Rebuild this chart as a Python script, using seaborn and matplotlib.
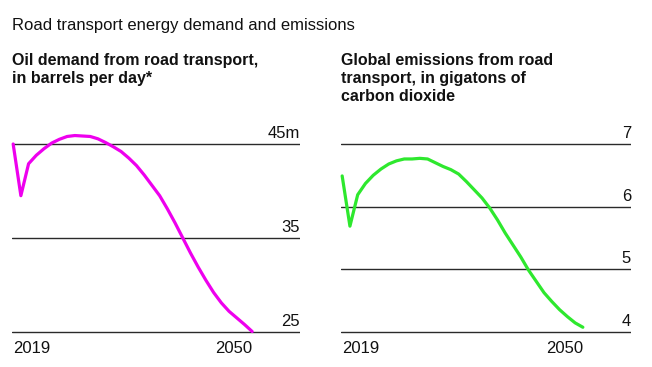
import matplotlib
matplotlib.use('Agg')
import matplotlib.pyplot as plt
import matplotlib.transforms as mtransforms
import seaborn as sns
import pandas as pd
import numpy as np

# data
years = list(range(2019, 2051))
oil_demand = [45.0, 39.5, 42.9, 43.8, 44.5, 45.1, 45.5, 45.8, 45.9, 45.85, 45.8,
              45.55, 45.15, 44.7, 44.2, 43.5, 42.7, 41.7, 40.6, 39.5, 38.1, 36.6,
              35.0, 33.4, 31.9, 30.5, 29.2, 28.1, 27.2, 26.5, 25.8, 25.05]
emissions = [6.49, 5.69, 6.19, 6.37, 6.50, 6.60, 6.68, 6.73, 6.76, 6.76, 6.77,
             6.76, 6.70, 6.64, 6.59, 6.52, 6.40, 6.27, 6.14, 5.98, 5.79, 5.58,
             5.39, 5.20, 4.99, 4.81, 4.63, 4.49, 4.36, 4.25, 4.15, 4.08]

x_ticks = [2019, 2050]
oil_ticks = [25, 35, 45]
oil_tick_labels = ['25', '35', '45m']
em_ticks = [4, 5, 6, 7]
em_tick_labels = ['4', '5', '6', '7']

MAGENTA = '#ee00ee'
GREEN = '#2ee82e'
GRID = '#2a2a2a'

sns.set_theme(style='white')
plt.rcParams['font.family'] = ['Liberation Sans', 'DejaVu Sans']

W, H = 652, 367
fig = plt.figure(figsize=(W / 100, H / 100), dpi=100, facecolor='white')


def px_axes(left, right, top, bottom):
    return fig.add_axes([left / W, 1 - bottom / H, (right - left) / W, (bottom - top) / H])


def style_panel(ax, ticks, labels, ylim):
    ax.set_xlim(2018.85, 2056.2)
    ax.set_ylim(*ylim)
    for s in ax.spines.values():
        s.set_visible(False)
    ax.set_yticks(ticks)
    ax.tick_params(axis='y', left=False, right=False, labelleft=False, labelright=False)
    ax.grid(axis='y', color=GRID, linewidth=1.0)
    ax.grid(axis='x', visible=False)
    ax.set_xticks(x_ticks)
    ax.set_xticklabels([str(t) for t in x_ticks], fontsize=12, color='#111111')
    ax.tick_params(axis='x', length=0, pad=3)
    xl = ax.get_xticklabels()
    xl[0].set_ha('left')
    xl[-1].set_ha('right')
    ax.set_xlabel('')
    ax.set_ylabel('')
    trans = mtransforms.offset_copy(ax.get_yaxis_transform(), fig=fig, x=0, y=6, units='dots')
    for t, lab in zip(ticks, labels):
        ax.text(1.0, t, lab, transform=trans, ha='right', va='baseline',
                fontsize=12, color='#111111')


df_oil = pd.DataFrame({'year': years, 'value': oil_demand})
df_em = pd.DataFrame({'year': years, 'value': emissions})

# left panel: oil demand
ax1 = px_axes(12, 300, 125.2, 336.7)
sns.lineplot(data=df_oil, x='year', y='value', ax=ax1, color=MAGENTA, linewidth=2.3,
             clip_on=False, zorder=3)
style_panel(ax1, oil_ticks, oil_tick_labels, (24.5, 47.0))

# right panel: emissions
ax2 = px_axes(341, 631, 128.2, 337.3)
sns.lineplot(data=df_em, x='year', y='value', ax=ax2, color=GREEN, linewidth=2.3,
             clip_on=False, zorder=3)
style_panel(ax2, em_ticks, em_tick_labels, (3.92, 7.25))

fig.text(12 / W, 1 - 30 / H, 'Road transport energy demand and emissions',
         fontsize=12, color='#111111', ha='left', va='baseline')
fig.text(12 / W, 1 - 53 / H, 'Oil demand from road transport,\nin barrels per day*',
         fontsize=11.5, fontweight='bold', color='#111111', ha='left', va='top',
         linespacing=1.25)
fig.text(341 / W, 1 - 53 / H, 'Global emissions from road\ntransport, in gigatons of\ncarbon dioxide',
         fontsize=11.5, fontweight='bold', color='#111111', ha='left', va='top',
         linespacing=1.25)

fig.savefig('out.png', dpi=100, facecolor='white')
